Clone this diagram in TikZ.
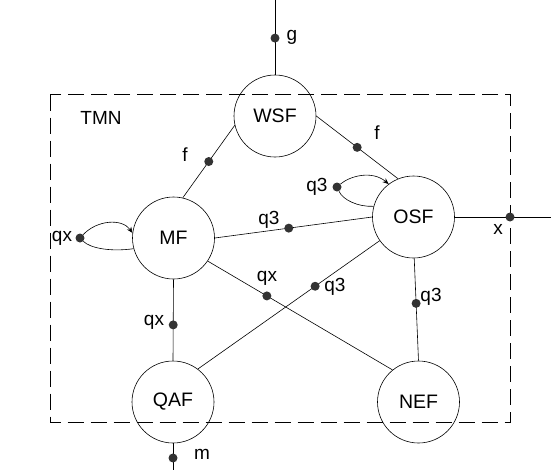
\documentclass[tikz,border=0pt]{standalone}
\usepackage{fontspec}
\setmainfont{Liberation Sans}
\usetikzlibrary{arrows.meta}
\tikzset{
  fn/.style={draw, circle, minimum size=82pt, inner sep=0pt, line width=0.6pt, font=\fontsize{19.5}{22}\selectfont},
  dot/.style={circle, fill=black!80, inner sep=0pt, minimum size=9pt},
  lbl/.style={inner sep=0pt, font=\fontsize{19}{21}\selectfont},
  conn/.style={line width=0.6pt},
  loopar/.style={line width=0.6pt, -{Stealth[length=6pt,width=5pt]}},
}
\begin{document}
\begin{tikzpicture}[x=1pt,y=-1pt]
\useasboundingbox (0,0) rectangle (560,475);
% TMN boundary
\draw[dash pattern=on 16pt off 7pt, line width=0.6pt] (50,94.5) rectangle (510,422);
\node[lbl] (tmn) at (101,118) {TMN};
% function blocks
\node[fn] (wsf) at (275,116) {WSF};
\node[fn] (mf) at (173.5,238) {MF};
\node[fn] (osf) at (413.5,217) {OSF};
\node[fn] (qaf) at (173,402) {QAF};
\node[fn] (nef) at (418.5,402) {NEF};
% external ends
\coordinate (gtop) at (275,0);
\coordinate (mbot) at (173,470);
\coordinate (xend) at (551,217);
% g
\draw[conn] (gtop) -- node[dot,pos=0.51] (dg) {} (wsf.north);
\node[lbl] (lg) at (292,37) {g};
% WSF - MF
\draw[conn] (wsf.193) -- node[dot,pos=0.5] (df1) {} (mf.77);
\node[lbl] (lf1) at (185,155) {f};
% WSF - OSF
\draw[conn] (wsf.0) -- node[dot,pos=0.5] (df2) {} (osf.112);
\node[lbl] (lf2) at (377,133) {f};
% MF - OSF
\draw[conn] (mf.0) -- node[dot,pos=0.47] (dq3a) {} (osf.180);
\node[lbl] (lq3a) at (269,220) {q3};
% MF - NEF
\draw[conn] (mf.-34) -- node[dot,pos=0.32] (dqxa) {} (nef.129);
\node[lbl] (lqxa) at (267,278) {qx};
% QAF - OSF
\draw[conn] (qaf.53) -- node[dot,pos=0.645] (dq3b) {} (osf.215);
\node[lbl] (lq3b) at (335,287) {q3};
% MF - QAF
\draw[conn] (mf.south) -- node[dot,pos=0.56] (dqxb) {} (qaf.north);
\node[lbl] (lqxb) at (154,322) {qx};
% OSF - NEF
\draw[conn] (osf.-89) -- node[dot,pos=0.44] (dq3c) {} (nef.90);
\node[lbl] (lq3c) at (431,297) {q3};
% QAF - m
\draw[conn] (qaf.south) -- node[dot,pos=0.55] (dm) {} (mbot);
\node[lbl] (lm) at (202,454) {m};
% OSF - x
\draw[conn] (osf.east) -- node[dot,pos=0.574] (dx) {} (xend);
\node[lbl] (lx) at (498,229) {x};
% loop on MF
\node[dot] (dlmf) at (80,238) {};
\node[lbl] (lqxl) at (62,238) {qx};
\draw[loopar] (dlmf) .. controls (97,220) and (122,218) .. (mf.173);
\draw[conn] (dlmf) .. controls (90,248) and (110,252) .. (mf.195);
% loop on OSF
\node[dot] (dlosf) at (337,187) {};
\node[lbl] (lq3l) at (317,187) {q3};
\draw[loopar] (dlosf) .. controls (350,176) and (372,170) .. (osf.127);
\draw[conn] (dlosf) .. controls (343,200) and (358,207) .. (osf.165);
\end{tikzpicture}
\end{document}
